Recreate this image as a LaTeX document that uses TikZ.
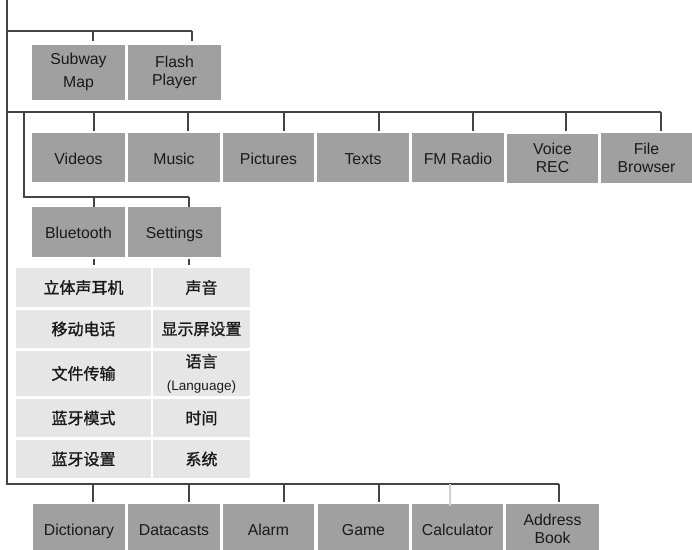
\documentclass[tikz,border=0pt]{standalone}
\usepackage{fontspec}
\setmainfont{Liberation Sans}
\newfontfamily\cjk{Noto Sans CJK SC}[FakeBold=1.3]
\definecolor{boxgray}{HTML}{A0A0A0}
\definecolor{cellgray}{HTML}{E6E6E6}
\definecolor{linegray}{HTML}{444444}
\definecolor{txt}{HTML}{1A1A1A}
\definecolor{paletick}{HTML}{C8D0DC}
\begin{document}
\begin{tikzpicture}[x=1pt,y=-1pt,
  box/.style={fill=boxgray, inner sep=0pt, align=center, text=txt,
    font=\fontsize{15.8}{18}\selectfont},
  one/.style={text height=13.5, text depth=0},
  cell/.style={fill=cellgray, inner sep=0pt, align=center, text=txt,
    font=\cjk\fontsize{16}{20}\selectfont},
  ln/.style={draw=linegray, line width=1.3pt}]
\useasboundingbox (0,0) rectangle (692,549);

% top group
\node[box, minimum width=93, minimum height=55] (sub) at (78.5,72) {Subway\\[5pt]Map};
\node[box, minimum width=93, minimum height=55] (fla) at (174.5,72) {Flash\\Player};

% second row
\node[box, one, minimum width=93, minimum height=49] (vid) at (78.5,157.5) {Videos};
\node[box, one, minimum width=92, minimum height=49] (mus) at (174,157.5) {Music};
\node[box, one, minimum width=91, minimum height=49] (pic) at (268.5,157.5) {Pictures};
\node[box, one, minimum width=92, minimum height=49] (txt) at (363,157.5) {Texts};
\node[box, one, minimum width=92, minimum height=49] (fm)  at (458,157.5) {FM Radio};
\node[box, minimum width=91, minimum height=49] (voi) at (552.5,158) {Voice\\REC};
\node[box, minimum width=91, minimum height=50] (fil) at (646.5,157.5) {File\\Browser};

% bluetooth / settings
\node[box, one, minimum width=93, minimum height=50] (blu) at (78.5,232) {Bluetooth};
\node[box, one, minimum width=93, minimum height=50] (set) at (174.5,232) {Settings};

% table
\node[cell, minimum width=135, minimum height=39] (c11) at (83.5,287.5) {立体声耳机};
\node[cell, minimum width=97,  minimum height=39] (c12) at (201.5,287.5) {声音};
\node[cell, minimum width=135, minimum height=38] (c21) at (83.5,329) {移动电话};
\node[cell, minimum width=97,  minimum height=38] (c22) at (201.5,329) {显示屏设置};
\node[cell, minimum width=135, minimum height=45] (c31) at (83.5,373.5) {文件传输};
\node[cell, minimum width=97,  minimum height=45] (c32) at (201.5,373.5) {语言\\[3pt]{\rmfamily\fontsize{13.5}{15}\selectfont(Language)}};
\node[cell, minimum width=135, minimum height=38] (c41) at (83.5,418) {蓝牙模式};
\node[cell, minimum width=97,  minimum height=38] (c42) at (201.5,418) {时间};
\node[cell, minimum width=135, minimum height=38] (c51) at (83.5,459) {蓝牙设置};
\node[cell, minimum width=97,  minimum height=38] (c52) at (201.5,459) {系统};

% bottom row
\node[box, one, minimum width=92, minimum height=50] (dic) at (79,529) {Dictionary};
\node[box, one, minimum width=92, minimum height=50] (dat) at (174,529) {Datacasts};
\node[box, one, minimum width=91, minimum height=50] (ala) at (268.5,529) {Alarm};
\node[box, one, minimum width=91, minimum height=50] (gam) at (363.5,529) {Game};
\node[box, one, minimum width=91, minimum height=50] (cal) at (457.5,529) {Calculator};
\node[box, minimum width=93, minimum height=50] (add) at (552.5,529) {Address\\Book};

% connector coordinates
\coordinate (m0) at (7,0);
\coordinate (m1) at (7,31);
\coordinate (m2) at (7,112);
\coordinate (m3) at (7,484);
\coordinate (b2) at (24,112);
\coordinate (b3) at (24,197);
\coordinate (e1) at (192,31);
\coordinate (e2) at (661,112);
\coordinate (e3) at (189,197);
\coordinate (e4) at (559,484);

\draw[ln] (m0) -- (m3) -- (e4);
\draw[ln] (m1) -- (e1);
\draw[ln] (m2) -- (e2);
\draw[ln] (b2) -- (b3) -- (e3);

% ticks
\foreach \x/\ya/\yb in {93/31/41, 192/31/41,
  94/112/131, 188/112/131, 284/112/131, 379/112/131, 473/112/131, 566/112/131, 661/112/131,
  94/197/207, 189/197/207,
  94/259/265, 189/259/265,
  93/484/502, 189/484/502, 284/484/502, 379/484/502, 559/484/502}{
  \coordinate (ta) at (\x,\ya);
  \coordinate (tb) at (\x,\yb);
  \draw[ln] (ta) -- (tb);
}
\coordinate (ca) at (450,484);
\coordinate (cb) at (450,506);
\draw[draw=paletick, line width=1.3pt] (ca) -- (cb);
\end{tikzpicture}
\end{document}
